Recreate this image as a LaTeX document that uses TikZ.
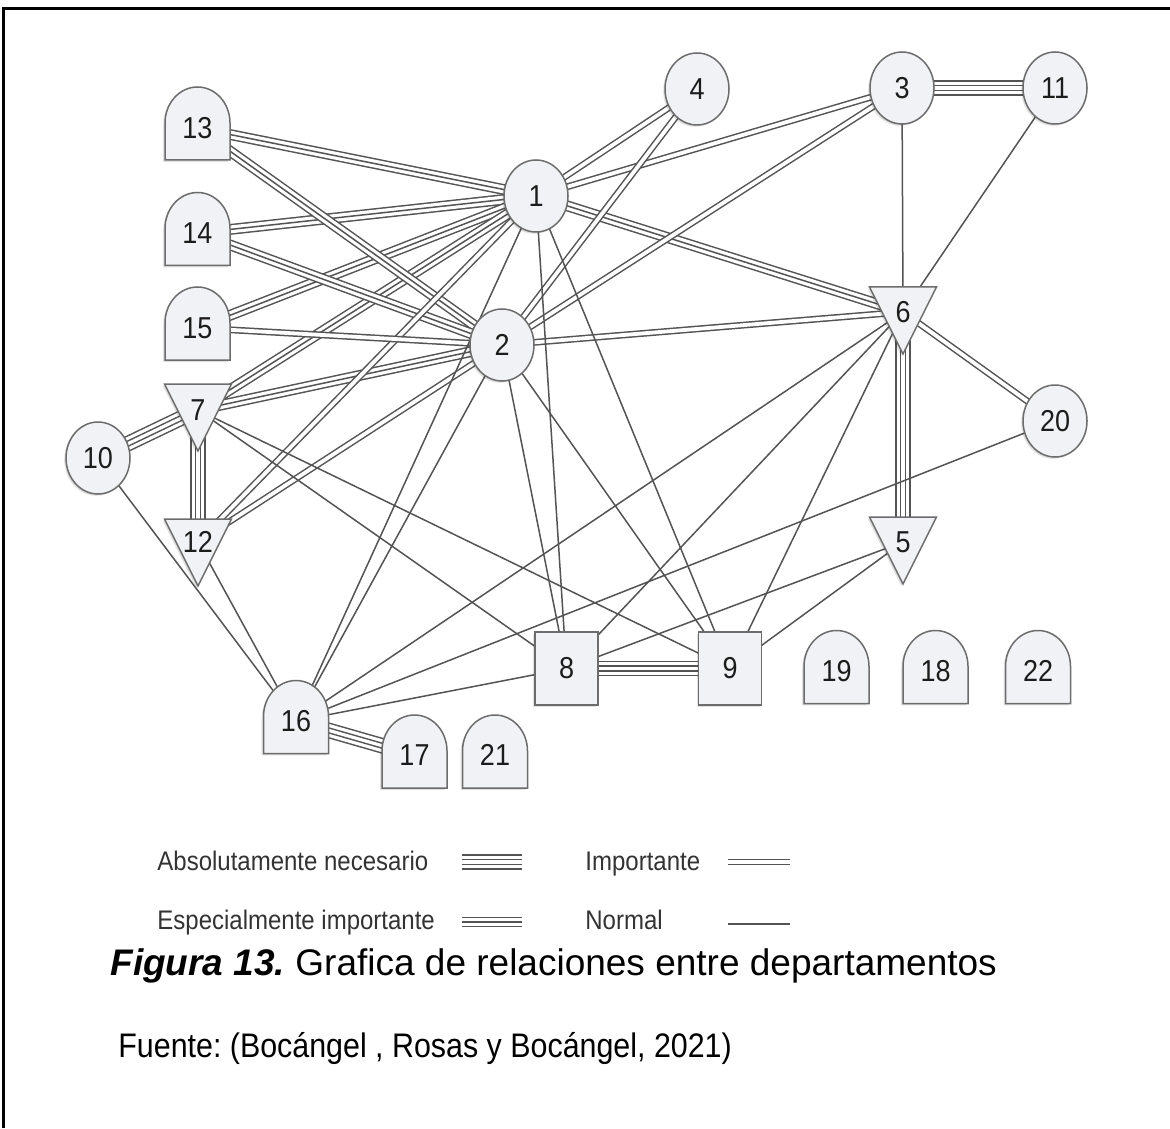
\documentclass[tikz,border=0pt]{standalone}
\usepackage{fontspec}
\setmainfont{Liberation Sans}
\usepackage{graphicx}
\usetikzlibrary{shapes.geometric,shadows}

\definecolor{edgec}{RGB}{84,84,84}
\definecolor{nodeline}{RGB}{108,108,108}
\definecolor{nodefill}{RGB}{241,242,245}
\definecolor{txt}{RGB}{28,28,28}

% text is set slightly taller than wide throughout
\newcommand\vstretch[1]{\scalebox{1}[1.12]{#1}}
\frenchspacing

\pgfdeclarelayer{bg}
\pgfsetlayers{bg,main}

\tikzset{
  nodebox/.style={draw=nodeline, line width=0.75pt, fill=nodefill,
    drop shadow={shadow xshift=-0.9pt, shadow yshift=-0.9pt, fill=black, opacity=0.12}},
  roundnode/.style={nodebox, ellipse, minimum width=32pt, minimum height=36pt,
    inner sep=0pt, font=\fontsize{13.5}{13.5}\selectfont, text=txt},
  squarenode/.style={nodebox, rectangle, minimum width=31.5pt, minimum height=36.5pt,
    inner sep=0pt, font=\fontsize{13.5}{13.5}\selectfont, text=txt},
  labelnode/.style={inner sep=0pt, font=\fontsize{13.5}{13.5}\selectfont, text=txt},
  legendtext/.style={anchor=base west, inner sep=0pt, font=\fontsize{12}{12}\selectfont, text=black!80},
  rel1/.style={draw=edgec, line width=0.75pt},
  rel2/.style={draw=edgec, line width=0.75pt, double=white, double distance=1.9pt},
  rel3/.style={preaction={draw=edgec, line width=5.45pt},
    draw=white, line width=3.95pt,
    postaction={draw=edgec, line width=0.75pt}},
  rel4/.style={preaction={draw=edgec, line width=7.8pt},
    preaction={draw=white, line width=6.3pt},
    draw=edgec, line width=3.1pt,
    postaction={draw=white, line width=1.6pt}},
  frameline/.style={draw=black, line width=1.6pt},
}

% dome: flat base, straight sides, half-ellipse on top; #1,#2 = box centre
\newcommand\domeshape[2]{%
  \path[nodebox] (#1-32.5,#2+36.5) -- (#1-32.5,#2-0.5)
    arc[start angle=180, end angle=360, x radius=32.5, y radius=36]
    -- (#1+32.5,#2+36.5) -- cycle;}
% downward triangle; #1 = centre x, #2 = top edge y
\newcommand\trishape[2]{%
  \path[nodebox] (#1-33.5,#2) -- (#1+33.5,#2) -- (#1,#2+67) -- cycle;}

\begin{document}
\begin{tikzpicture}[x=0.5pt, y=-0.5pt]
\useasboundingbox (0,0) rectangle (1170,1128);
\begin{pgfonlayer}{bg}
  \fill[white] (0,0) rectangle (1170,1128);
\end{pgfonlayer}

% frame
\draw[frameline] (3.5,1128) -- (3.5,8.5) -- (1170,8.5);

% round departments
\node[roundnode] (n1)  at (536,196) {\vstretch{1}};
\node[roundnode] (n2)  at (502,345) {\vstretch{2}};
\node[roundnode] (n3)  at (902,88)  {\vstretch{3}};
\node[roundnode] (n4)  at (697,89)  {\vstretch{4}};
\node[roundnode] (n11) at (1055,88) {\vstretch{11}};
\node[roundnode] (n10) at (98,458)  {\vstretch{10}};
\node[roundnode] (n20) at (1055,421) {\vstretch{20}};

% square departments
\node[squarenode] (n8) at (566.5,668.5) {\vstretch{8}};
\node[squarenode] (n9) at (730,668.5)   {\vstretch{9}};

% triangular departments
\trishape{903}{287}
\node[labelnode] (n6) at (903,312) {\vstretch{6}};
\trishape{198}{384}
\node[labelnode] (n7) at (198,410) {\vstretch{7}};
\trishape{198}{519}
\node[labelnode] (n12) at (198,542) {\vstretch{12}};
\trishape{903}{517}
\node[labelnode] (n5) at (903,542) {\vstretch{5}};

% dome departments
\domeshape{197.5}{123.5}
\node[labelnode] (n13) at (197.5,128) {\vstretch{13}};
\domeshape{197.5}{229}
\node[labelnode] (n14) at (197.5,233) {\vstretch{14}};
\domeshape{197.5}{323.5}
\node[labelnode] (n15) at (197.5,328) {\vstretch{15}};
\domeshape{296}{717}
\node[labelnode] (n16) at (296,721) {\vstretch{16}};
\domeshape{414.5}{751.5}
\node[labelnode] (n17) at (414.5,755) {\vstretch{17}};
\domeshape{495}{751.5}
\node[labelnode] (n21) at (495,755) {\vstretch{21}};
\domeshape{836.5}{667}
\node[labelnode] (n19) at (836.5,671) {\vstretch{19}};
\domeshape{935.5}{667}
\node[labelnode] (n18) at (935.5,671) {\vstretch{18}};
\domeshape{1038}{667}
\node[labelnode] (n22) at (1038,671) {\vstretch{22}};

% relations, drawn beneath the departments
\begin{pgfonlayer}{bg}
  % absolutely necessary
  \draw[rel4] (n3.center) -- (n11.center);
  \draw[rel4] (n6.center) -- (n5.center);
  \draw[rel4] (n7.center) -- (n10.center);
  \draw[rel4] (n7.center) -- (n12.center);
  \draw[rel4] (n16.center) -- (n17.center);
  \draw[rel4] (n8.center) -- (n9.center);
  % especially important
  \draw[rel3] (n1.center) -- (n13.center);
  \draw[rel3] (n1.center) -- (n14.center);
  \draw[rel3] (n1.center) -- (n15.center);
  \draw[rel3] (n1.center) -- (n7.center);
  \draw[rel3] (n1.center) -- (n6.center);
  \draw[rel3] (n2.center) -- (n13.center);
  \draw[rel3] (n2.center) -- (n14.center);
  \draw[rel3] (n2.center) -- (n7.center);
  % important
  \draw[rel2] (n1.center) -- (n4.center);
  \draw[rel2] (n1.center) -- (n3.center);
  \draw[rel2] (n1.center) -- (n12.center);
  \draw[rel2] (n2.center) -- (n12.center);
  \draw[rel2] (n2.center) -- (n15.center);
  \draw[rel2] (n2.center) -- (n6.center);
  \draw[rel2] (n2.center) -- (n3.center);
  \draw[rel2] (n2.center) -- (n4.center);
  \draw[rel2] (n6.center) -- (n20.center);
  % normal
  \draw[rel1] (n3.center) -- (n6.center);
  \draw[rel1] (n11.center) -- (n6.center);
  \draw[rel1] (n1.center) -- (n16.center);
  \draw[rel1] (n1.center) -- (n8.center);
  \draw[rel1] (n1.center) -- (n9.center);
  \draw[rel1] (n2.center) -- (n16.center);
  \draw[rel1] (n2.center) -- (n8.center);
  \draw[rel1] (n2.center) -- (n9.center);
  \draw[rel1] (n7.center) -- (n8.center);
  \draw[rel1] (n7.center) -- (n9.center);
  \draw[rel1] (n10.center) -- (n16.center);
  \draw[rel1] (n12.center) -- (n16.center);
  \draw[rel1] (n16.center) -- (n6.center);
  \draw[rel1] (n16.center) -- (n20.center);
  \draw[rel1] (n16.center) -- (n8.center);
  \draw[rel1] (n8.center) -- (n6.center);
  \draw[rel1] (n8.center) -- (n5.center);
  \draw[rel1] (n9.center) -- (n6.center);
  \draw[rel1] (n9.center) -- (n5.center);
\end{pgfonlayer}

% legend
\node[legendtext] (lt1) at (157,870) {\vstretch{Absolutamente necesario}};
\node[legendtext] (lt2) at (585,870) {\vstretch{Importante}};
\node[legendtext] (lt3) at (157,929) {\vstretch{Especialmente importante}};
\node[legendtext] (lt4) at (585,929) {\vstretch{Normal}};
\coordinate (la) at (462,862); \coordinate (lb) at (522,862);
\coordinate (lc) at (728,862); \coordinate (ld) at (790,862);
\coordinate (le) at (462,922); \coordinate (lf) at (522,922);
\coordinate (lg) at (728,924); \coordinate (lh) at (790,924);
\draw[rel4] (la) -- (lb);
\draw[rel2] (lc) -- (ld);
\draw[rel3] (le) -- (lf);
\draw[rel1] (lg) -- (lh);

% caption and source
\node[anchor=base west, inner sep=0pt, font=\fontsize{18.5}{18.5}\selectfont] (cap) at (110,975)
  {\textbf{\textit{Figura 13.}} Grafica de relaciones entre departamentos};
\node[anchor=base west, inner sep=0pt, font=\fontsize{15.2}{15.2}\selectfont] (src) at (118,1057)
  {\vstretch{Fuente: (Bocángel , Rosas y Bocángel, 2021)}};
\end{tikzpicture}
\end{document}
